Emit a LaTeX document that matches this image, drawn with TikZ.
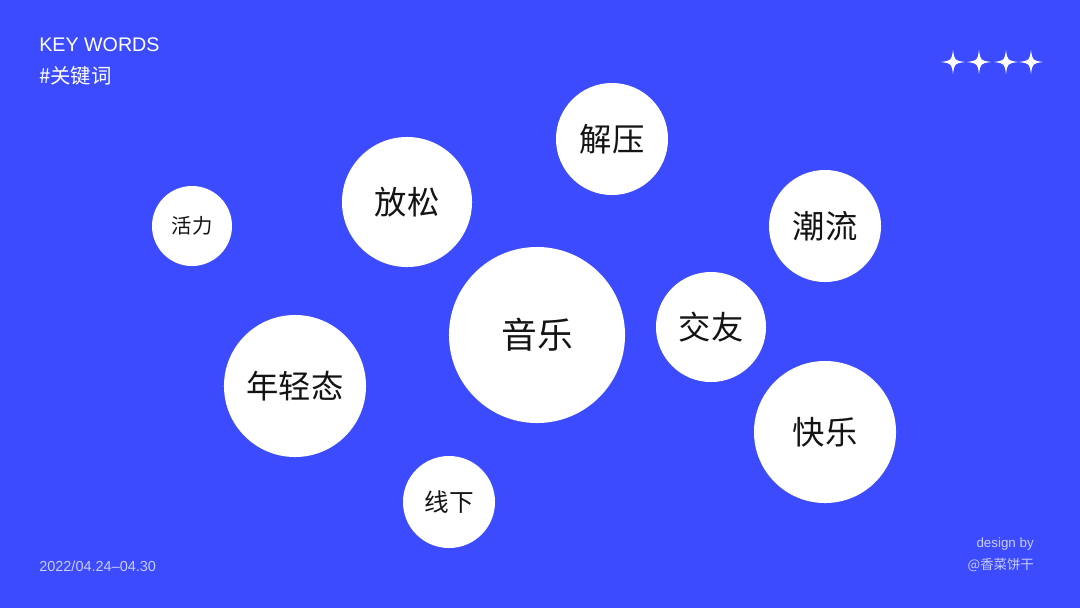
\documentclass[tikz,border=0pt]{standalone}
\usepackage{fontspec}
\setmainfont{Liberation Sans}
\newfontfamily\cjk{Noto Sans CJK SC}
\usetikzlibrary{positioning}

\definecolor{bgblue}{RGB}{61,75,255}
\definecolor{paleblue}{RGB}{200,204,255}
\definecolor{inkblack}{RGB}{20,20,20}

\begin{document}
\begin{tikzpicture}[
    x=0.025cm, y=-0.025cm,
    bubble/.style={
        circle, fill=white, inner sep=0pt, text=inkblack,
        minimum size=#1*0.05cm
    },
    word/.style={font=\cjk\fontsize{#1}{#1}\selectfont},
    caption/.style={anchor=west, inner sep=0pt, text=white},
    sparkle/.pic={
        \fill[white] (0,-12) .. controls (1.5,-1.5) .. (12,0)
            .. controls (1.5,1.5) .. (0,12)
            .. controls (-1.5,1.5) .. (-12,0)
            .. controls (-1.5,-1.5) .. cycle;
    }
]

% Background
\fill[bgblue] (0,0) rectangle (1080,608);
\useasboundingbox (0,0) rectangle (1080,608);

% -------------------------
% Header and footer texts
% -------------------------
\node[caption, font=\fontsize{14}{15}\selectfont] (title) at (39,45) {KEY WORDS};
\node[caption, font=\cjk\fontsize{14.5}{15}\selectfont] (subtitle) at (39,76) {\#关键词};
\node[caption, text=paleblue, font=\fontsize{10.3}{12}\selectfont] (date) at (39,566) {2022/04.24--04.30};
\node[anchor=east, inner sep=0pt, text=paleblue, font=\fontsize{9.5}{12}\selectfont] (design) at (1034,544) {design by};
\node[anchor=east, inner sep=0pt, text=paleblue, font=\cjk\fontsize{9.5}{12}\selectfont] (author) at (1034,565) {@香菜饼干};

% Stars
\foreach \sx in {953,979,1006,1031}
    \pic at (\sx,62) {sparkle};

% -------------------------
% Keyword bubbles
% -------------------------
\node[bubble=40, word=14.5] (vitality) at (192,226) {活力};
\node[bubble=65, word=23] (relax) at (407,202) {放松};
\node[bubble=56, word=23] (relief) at (612,139) {解压};
\node[bubble=56, word=23] (trend) at (825,226) {潮流};
\node[bubble=88, word=25.5] (music) at (537,335) {音乐};
\node[bubble=55, word=23] (friends) at (711,327) {交友};
\node[bubble=71, word=23] (young) at (295,386) {年轻态};
\node[bubble=71, word=23] (happy) at (825,432) {快乐};
\node[bubble=46, word=17.5] (offline) at (449,502) {线下};

\end{tikzpicture}
\end{document}
